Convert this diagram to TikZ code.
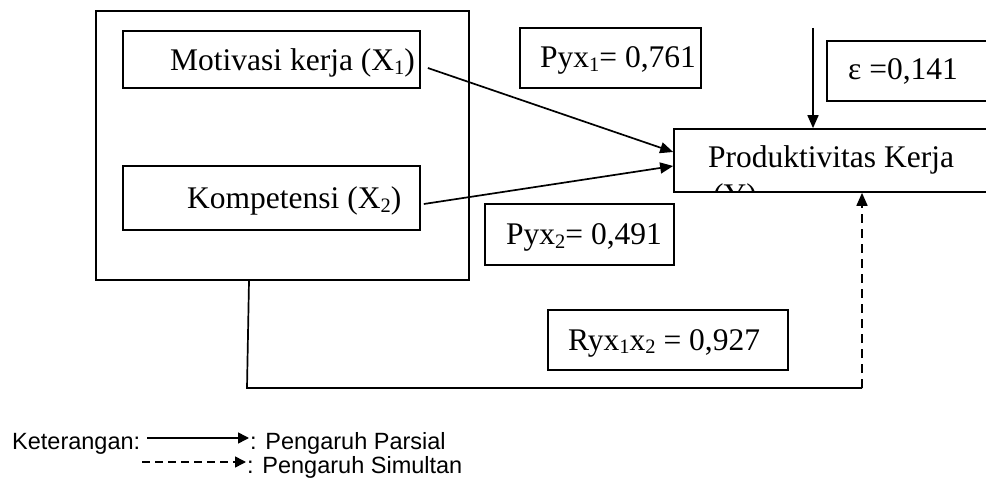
\documentclass[tikz,border=0pt]{standalone}
\usepackage{fontspec}
\setmainfont{Liberation Serif}
\newfontfamily\legendfont{Liberation Sans}
\usetikzlibrary{arrows.meta,calc}
\newcommand\sbs[1]{\raisebox{-0.1em}{\fontsize{20.5}{20.5}\selectfont #1}}
\tikzset{
  box/.style={draw, line width=1.7pt, inner sep=0pt, fill=white},
  txt/.style={inner sep=0pt, anchor=base west, font=\fontsize{31.5}{36}\selectfont},
  leg/.style={inner sep=0pt, anchor=base west, font=\legendfont\fontsize{23.5}{27}\selectfont},
  conn/.style={line width=1.7pt},
  tip/.style={-{Triangle[length=13pt,width=11pt]}},
  dsh/.style={line width=1.7pt, dash pattern=on 9pt off 6pt},
  legtip/.style={line width=1.6pt,-{Triangle[length=11pt,width=11pt]}},
}
\begin{document}
\begin{tikzpicture}[x=1pt,y=-1pt]
\useasboundingbox (0,0) rectangle (986,481);
\begin{scope}
\clip (0,0) rectangle (986,481);
% outer group box
\node[box, fill=none, minimum width=373, minimum height=269] (outer) at (282.5,145.5) {};
% inner boxes
\node[box, minimum width=297, minimum height=57] (mot) at (271.5,59.5) {};
\node[box, minimum width=297, minimum height=64] (kom) at (271.5,198) {};
\node[txt] (motT) at (170,71) {Motivasi kerja (X\sbs{1})};
\node[txt] (komT) at (187,209) {Kompetensi (X\sbs{2})};
% coefficient boxes
\node[box, minimum width=181, minimum height=60] (p1) at (610.5,58) {};
\node[txt] (p1T) at (540,68) {Pyx\sbs{1}= 0,761};
\node[box, minimum width=189, minimum height=61] (p2) at (579.5,234.5) {};
\node[txt] (p2T) at (506,245) {Pyx\sbs{2}= 0,491};
\node[box, minimum width=200, minimum height=60] (eps) at (927,71) {};
\node[txt] (epsT) at (848,80) {ε =0,141};
\node[box, minimum width=240, minimum height=60] (r) at (668,340) {};
\node[txt] (rT) at (568,350) {Ryx\sbs{1}x\sbs{2} = 0,927};
% dependent variable box
\node[box, minimum width=340, minimum height=63] (y) at (844,160.5) {};
\node[txt] (yT) at (708,168) {Produktivitas Kerja};
\begin{scope}
\clip (674,129) rectangle (1000,191);
\node[txt] (yT2) at (713,206) {(Y)};
\end{scope}
% connectors
\coordinate (epsTop) at (813,28);
\coordinate (corner1) at (247,388);
\coordinate (corner2) at (862,388);
\draw[conn,tip] ($(mot.east)+(7,8.5)$) -- ($(y.west)+(0,-8.5)$);
\draw[conn,tip] ($(kom.east)+(3,6)$) -- ($(y.west)+(0,5.5)$);
\draw[conn,tip] (epsTop) -- (epsTop |- y.north);
\draw[conn] ($(outer.south)+(-33.5,0)$) -- (corner1) -- (corner2);
\draw[dsh,tip] (corner2) -- (corner2 |- y.south);
% legend
\node[leg] (ket) at (12,449) {Keterangan:};
\coordinate (la) at (147,438);
\coordinate (lb) at (249,438);
\coordinate (lc) at (142,462);
\coordinate (ld) at (246,462);
\draw[legtip] (la) -- (lb);
\draw[legtip,dash pattern=on 8pt off 5pt] (lc) -- (ld);
\node[leg] (ketA) at (250,449) {: Pengaruh Parsial};
\node[leg] (ketB) at (247,473) {: Pengaruh Simultan};
\end{scope}
\end{tikzpicture}
\end{document}
